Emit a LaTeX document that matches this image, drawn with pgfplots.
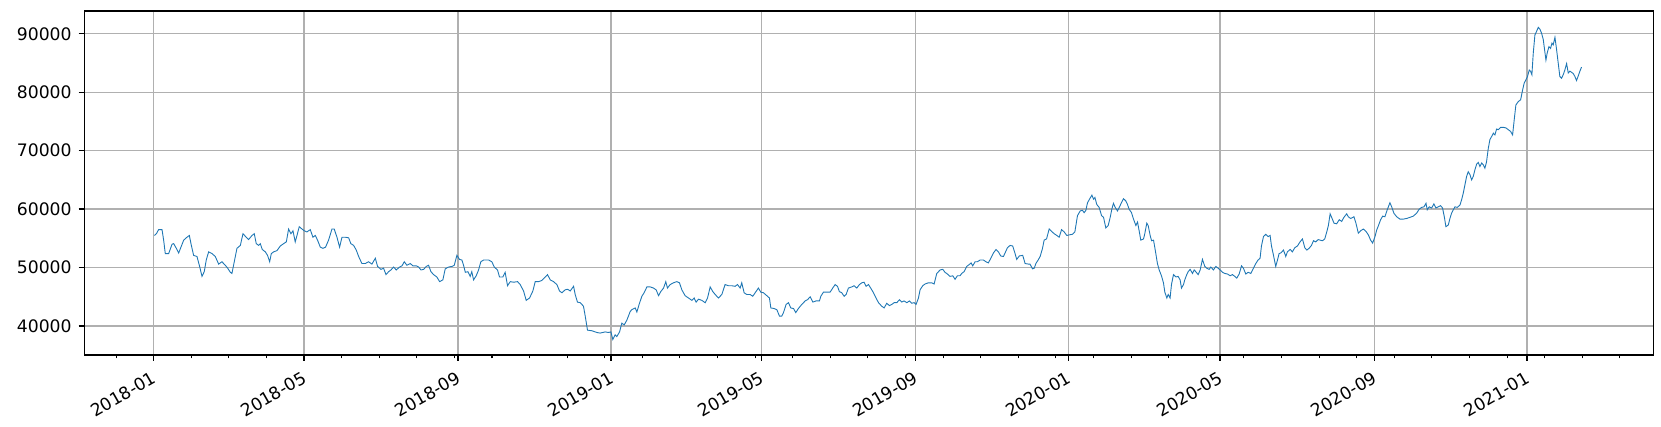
\documentclass[border=0pt]{standalone}
\usepackage{fontspec}
\setmainfont{DejaVu Sans}
\usepackage{pgfplots}
\usepackage{pgfplotstable}
\pgfplotsset{compat=1.18}
\definecolor{mplblue}{HTML}{1F77B4}
\definecolor{gridgray}{HTML}{B0B0B0}

% day = days since 2018-01-01, price
\pgfplotstableread{
day price
0.6 55500
2.2 55800
4.0 56500
6.7 56500
8.0 54700
9.3 52400
12.0 52400
14.7 54000
16.0 54100
18.1 53300
20.0 52500
21.8 53500
24.0 54700
26.6 55200
28.5 55500
29.8 54100
31.9 52100
34.6 51900
36.7 50200
38.6 48500
40.4 49300
42.0 51300
43.9 52700
46.6 52400
49.2 51900
51.9 50600
54.5 51000
57.2 50400
59.1 49900
61.2 49200
62.5 49000
63.8 50400
66.5 53300
69.2 53800
71.3 55800
73.9 55200
75.8 54800
78.5 55500
80.3 55800
81.9 54100
83.8 53800
85.1 54100
86.7 53100
89.1 52700
90.9 52100
92.6 51000
93.9 52400
95.8 52700
98.4 52900
101.1 53700
103.7 54100
105.9 54400
107.7 56600
109.6 55800
111.2 56300
113.0 54400
114.4 55500
116.2 57000
118.4 56600
120.2 56300
122.3 56100
125.0 56500
127.1 55200
129.0 55500
130.8 54700
133.0 53500
135.1 53300
137.2 53500
139.6 54700
142.3 56600
144.1 56600
146.3 55200
148.4 53500
150.3 55200
152.9 55200
155.6 55100
157.4 54100
159.6 53800
161.7 53000
163.6 51900
166.2 50700
168.9 50700
171.5 51000
174.2 50600
176.9 51600
178.7 50200
181.4 49700
183.5 49900
185.4 48800
187.5 49300
189.4 49600
191.5 50100
193.6 49600
196.3 50100
198.2 50300
200.0 51000
202.1 50400
204.8 50700
206.9 50300
209.6 50300
211.5 50100
213.3 49600
215.5 49700
217.5 50200
219.4 50400
221.3 49300
223.4 48800
226.0 48400
228.2 47600
230.8 47900
232.7 49800
235.4 50100
238.0 50200
239.9 50400
242.0 52100
244.1 51400
246.0 51300
247.3 50400
248.7 49200
250.8 49300
252.6 48500
253.9 49300
255.3 47900
257.4 48600
259.3 49600
261.1 51000
263.3 51300
267.3 51300
269.9 51000
271.8 50100
274.4 49600
276.0 48400
278.7 48400
280.5 49200
282.4 46900
284.6 47600
287.2 47500
290.4 47600
292.5 47100
295.2 46000
297.3 44400
300.0 44800
302.6 46000
304.5 47600
307.2 47600
309.8 47800
312.5 48400
314.3 48800
316.5 47900
319.1 47600
321.8 47100
323.9 46000
325.8 45700
328.4 46200
330.3 46300
332.4 46000
335.1 46800
336.4 45400
338.2 44100
340.4 44000
343.0 43400
344.4 41700
346.2 39300
349.7 39200
353.7 38900
356.3 38800
360.3 39000
363.0 38900
364.9 39000
366.4 37700
368.3 38500
369.6 38200
371.8 39000
373.6 40500
375.5 40200
377.6 41000
380.3 42500
381.6 42800
384.3 43100
385.6 42400
387.4 43700
389.6 45100
391.4 45700
393.6 46700
396.2 46700
398.9 46500
401.0 46200
402.9 45200
404.7 45900
406.9 46500
408.7 47600
410.0 46500
412.2 47100
414.8 47400
417.5 47600
419.6 47400
421.5 46200
424.1 45200
426.8 44800
429.5 44400
431.3 44800
432.9 44100
434.8 44600
437.4 44400
440.1 44000
442.0 44800
444.1 46700
446.2 45900
448.1 45400
450.7 44800
453.4 45400
456.0 47100
458.7 46900
461.4 46900
464.0 46800
465.9 47100
468.0 46500
469.3 47400
471.2 45700
473.3 45400
476.0 45400
478.1 45100
480.0 45700
482.6 46500
484.5 45800
486.6 45700
489.3 45200
491.4 44800
492.5 43100
495.1 43000
497.3 42800
499.4 41700
501.2 41700
502.6 42300
504.7 43700
506.6 44000
508.4 43100
510.6 43000
512.4 42300
514.5 43000
517.2 43700
519.9 44300
521.7 44500
523.9 45000
526.0 44100
528.6 44300
531.3 44300
532.4 45100
534.5 45800
537.1 45800
539.8 45800
541.9 46500
543.8 47100
545.7 46800
547.2 45900
549.1 45700
551.0 45100
552.6 45400
554.4 46500
557.1 46700
558.9 46900
561.1 46500
563.2 47100
565.1 47400
566.9 47500
568.5 46800
570.4 47100
572.2 46500
574.4 45700
576.5 44800
578.4 44000
581.0 43400
582.9 43100
585.0 43900
587.1 43500
589.0 43700
590.9 44000
593.0 44000
595.1 44500
597.0 44100
598.8 44300
601.0 44000
603.1 44300
605.0 43900
606.8 44000
608.4 43700
610.3 44800
611.6 46200
613.7 46900
615.6 47200
618.2 47400
620.9 47400
622.8 47200
624.9 49000
627.6 49600
629.7 49700
631.5 49200
633.4 48900
635.5 48500
637.7 48600
639.5 48000
641.4 48600
643.5 48600
644.8 49000
646.7 49300
648.8 50200
650.7 50500
652.3 50800
653.6 50300
655.5 51000
657.3 51000
659.5 51300
662.1 51300
664.2 51000
666.1 50800
668.0 51600
670.1 52500
672.2 53100
674.1 52700
675.9 52000
678.1 51900
679.4 52500
681.3 53400
683.4 53800
685.5 53700
687.4 52400
688.7 51400
690.8 52000
693.5 52100
695.4 50700
698.0 50600
699.3 50600
701.3 49800
702.7 49900
704.0 50700
705.8 51300
707.4 51900
709.3 53300
710.6 54700
712.5 54900
714.6 56600
716.5 56200
718.6 55800
720.7 55500
722.6 55200
724.5 56500
726.6 56100
728.7 55500
730.6 55600
733.2 55700
735.1 56100
737.2 58900
739.4 59700
741.2 59800
742.5 59400
743.9 59800
745.2 61100
747.3 61900
748.7 62400
750.0 61700
751.1 62000
752.6 60800
754.5 60300
756.4 58900
758.0 58600
759.8 56800
761.7 57200
763.3 58600
764.6 60000
765.9 61000
767.3 60300
769.1 59700
770.5 60300
772.3 61100
773.9 61800
775.8 61400
777.1 60800
778.4 60000
780.3 59400
781.9 58300
783.8 57200
785.1 57800
786.4 56300
787.7 54700
789.9 54900
790.9 55800
792.5 57600
793.6 57200
795.2 55500
796.3 54600
797.9 54700
799.7 52400
801.0 50700
802.4 49600
804.2 48600
805.8 47400
806.9 45800
808.5 44800
809.6 45400
811.1 44800
812.2 47100
813.8 48800
815.7 48400
817.5 48500
819.1 47900
820.2 46500
821.8 47100
822.8 47900
824.4 48800
825.5 49300
827.1 49700
829.0 49000
830.3 49600
831.6 49300
833.5 48800
835.1 49600
836.9 51400
838.8 50200
840.4 49900
842.3 49700
843.6 50100
845.7 49600
847.6 50200
849.4 49900
851.0 49600
852.9 49200
854.8 49000
856.9 48900
859.0 48600
860.9 48800
862.7 48500
864.3 48200
866.2 48900
868.1 50300
869.6 49900
871.5 48900
873.4 49200
875.5 49000
877.6 49900
879.5 50700
881.3 51300
882.9 51600
884.0 53700
885.6 55300
887.5 55700
889.3 55300
890.9 55500
892.0 53700
893.6 52100
895.4 50200
896.8 51300
898.1 52400
899.4 52500
901.6 53000
903.4 51900
904.7 52700
906.9 53100
908.7 52700
910.6 53400
912.7 53700
914.8 54400
916.7 54900
918.6 53400
920.2 53000
922.0 53300
923.9 53800
925.5 54600
927.3 54400
929.2 54800
930.8 54700
932.7 54600
934.5 54900
936.1 56100
937.4 57200
938.8 59200
940.0 58600
941.9 57600
944.0 57500
946.1 58200
948.0 57900
949.8 58600
952.0 59200
953.3 58700
955.2 58400
957.8 58700
959.4 57600
961.3 55900
963.1 56300
965.3 56600
967.4 56200
969.3 55600
971.1 54700
972.7 54200
974.6 55300
975.9 56400
977.2 57100
979.1 58200
980.7 58800
982.5 58700
984.4 59900
986.5 61100
987.9 60400
989.7 59300
991.9 58700
994.5 58300
997.2 58300
999.8 58400
1002.5 58600
1005.1 58800
1007.8 59300
1009.9 60000
1011.8 60300
1013.7 60400
1015.3 61000
1016.3 59900
1017.9 60400
1019.8 60200
1021.6 60900
1023.2 60200
1025.1 60400
1026.9 60600
1028.5 60200
1029.9 58700
1031.2 57000
1033.1 57300
1034.4 58400
1035.7 59300
1037.1 59900
1038.4 60400
1040.2 60300
1042.4 60700
1043.7 61600
1045.0 62700
1046.4 64200
1047.7 65600
1049.0 66400
1050.4 65900
1051.7 65000
1053.0 65600
1054.3 66700
1055.7 67700
1057.0 68000
1058.3 67300
1059.7 67900
1061.0 67600
1062.3 67000
1063.6 68100
1065.0 70400
1066.3 71900
1067.6 72400
1069.0 73000
1070.3 72700
1071.6 73700
1073.0 73600
1074.8 74000
1076.9 74000
1079.1 73900
1080.9 73600
1082.8 73300
1084.4 72700
1085.7 75300
1087.0 77800
1088.9 78400
1090.8 78700
1092.4 80400
1093.7 81600
1095.0 82100
1096.3 82700
1097.7 83800
1098.7 83600
1099.8 83000
1100.9 86700
1102.2 89800
1103.5 90400
1104.9 91100
1106.2 90800
1107.5 90100
1108.9 89000
1109.9 87300
1111.0 85500
1112.0 86700
1113.4 87800
1114.7 87500
1115.8 88400
1116.8 88100
1118.2 89400
1119.5 87300
1120.8 85000
1122.1 82700
1123.5 82400
1124.8 83000
1126.1 83800
1127.5 84900
1128.8 83300
1130.1 83600
1131.5 83400
1132.8 83200
1134.1 82700
1135.4 82000
1136.8 82800
1138.1 83600
1139.4 84300
}\pricedata

\begin{document}
\begin{tikzpicture}
\begin{axis}[
    at={(0,0)}, anchor=south west,
    scale only axis,
    width=784.5pt, height=172pt,
    xmin=-55, xmax=1197,
    ymin=35050, ymax=93900,
    xtick={0,120,243,365,485,608,730,851,974,1096},
    xticklabels={2018-01,2018-05,2018-09,2019-01,2019-05,2019-09,2020-01,2020-05,2020-09,2021-01},
    minor xtick={-30,30,60,90,150,180,210,240,270,300,330,360,390,420,450,480,510,540,570,600,630,660,690,720,750,780,810,840,870,900,930,960,990,1020,1050,1080,1110,1140,1170},
    ytick={40000,50000,60000,70000,80000,90000},
    tick pos=left,
    tick align=outside,
    major tick length=3pt,
    minor tick length=1.7pt,
    every major tick/.append style={black, line width=0.69pt},
    every minor tick/.append style={black, line width=0.52pt},
    axis line style={black, line width=0.69pt},
    grid=major,
    major grid style={gridgray, line width=0.69pt},
    ticklabel style={font=\fontsize{8.6}{10}\selectfont, text=black},
    xticklabel style={rotate=30, anchor=north east},
    scaled y ticks=false,
    /pgf/number format/1000 sep={},
    /pgf/number format/assume math mode=true,
]
\addplot[mplblue, line width=0.45pt, mark=none] table[x=day, y=price] {\pricedata};
\end{axis}
\pgfresetboundingbox
\useasboundingbox (-42.35pt,-36pt) rectangle (788.15pt,177.5pt);
\end{tikzpicture}
\end{document}
